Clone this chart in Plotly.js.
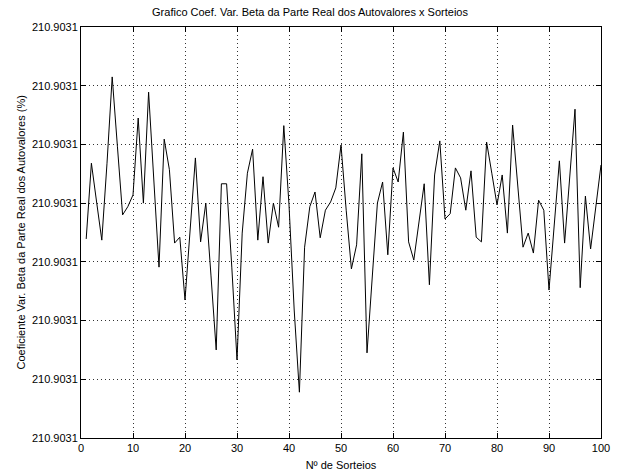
<!DOCTYPE html>
<html>
<head>
<meta charset="utf-8">
<script src="https://cdn.plot.ly/plotly-3.0.1.min.js"></script>
<style>
html,body{margin:0;padding:0;background:#fff;}
#chart{width:620px;height:475px;}
</style>
</head>
<body>
<div id="chart"></div>
<script>
// Sorteio index (x)
const sorteios = Array.from({length: 100}, (_, i) => i + 1);
// Values, expressed in units of one y-grid step (0 = bottom axis, 7 = top axis)
const coefVar = [
  3.39, 4.68, 4.02, 3.37, 4.68, 6.15, 4.97, 3.80, 3.94, 4.14,
  5.45, 4.00, 5.89, 4.40, 2.91, 5.09, 4.57, 3.32, 3.42, 2.35,
  3.54, 4.77, 3.34, 4.00, 2.76, 1.50, 4.33, 4.33, 2.91, 1.33,
  3.49, 4.51, 4.92, 3.37, 4.45, 3.32, 4.00, 3.59, 5.32, 3.97,
  2.18, 0.78, 3.25, 3.94, 4.19, 3.41, 3.88, 4.02, 4.26, 4.99,
  3.88, 2.88, 3.29, 4.84, 1.45, 2.69, 4.00, 4.36, 3.12, 4.60,
  4.36, 5.21, 3.34, 3.03, 3.66, 4.33, 2.61, 4.48, 5.06, 3.73,
  3.82, 4.60, 4.43, 3.88, 4.55, 3.42, 3.34, 5.04, 4.51, 3.97,
  4.48, 3.49, 5.33, 4.28, 3.25, 3.49, 3.15, 4.05, 3.88, 2.52,
  3.59, 4.72, 3.32, 4.45, 5.60, 2.56, 4.12, 3.22, 3.94, 4.65
];
const yTickVals = [0, 1, 2, 3, 4, 5, 6, 7];
const yTickText = ["210.9031", "210.9031", "210.9031", "210.9031", "210.9031", "210.9031", "210.9031", "210.9031"];
const xTickVals = [0, 10, 20, 30, 40, 50, 60, 70, 80, 90, 100];
const yTitle = 'Coeficiente Var. Beta da Parte Real dos Autovalores\u00a0(%)';

const fontFam = "Liberation Sans, Arial, Helvetica, sans-serif";

const trace = {
  x: sorteios,
  y: coefVar,
  type: 'scatter',
  mode: 'lines',
  line: {color: '#000000', width: 1},
  hoverinfo: 'skip'
};

const axisCommon = {
  showline: true,
  linecolor: '#000000',
  linewidth: 1,
  mirror: 'ticks',
  ticks: 'inside',
  ticklen: 5,
  tickcolor: '#000000',
  showgrid: true,
  gridcolor: '#333333',
  gridwidth: 1,
  griddash: '1px,3px',
  zeroline: false,
  tickfont: {family: fontFam, size: 11, color: '#000000'}
};

const layout = {
  width: 620,
  height: 475,
  paper_bgcolor: '#ffffff',
  plot_bgcolor: '#ffffff',
  margin: {l: 81, r: 19, t: 27, b: 37},
  showlegend: false,
  title: {
    text: 'Grafico Coef. Var. Beta da Parte Real dos Autovalores x Sorteios',
    font: {family: fontFam, size: 11, color: '#000000'},
    x: 0.5, xanchor: 'center',
    y: 1 - 12 / 475, yanchor: 'middle', yref: 'container'
  },
  xaxis: Object.assign({}, axisCommon, {
    range: [0, 100],
    tickvals: xTickVals,
    ticktext: xTickVals.map(String),
    title: {text: 'Nº de Sorteios', font: {family: fontFam, size: 11, color: '#000000'}, standoff: 8},
    automargin: false
  }),
  yaxis: Object.assign({}, axisCommon, {
    range: [0, 7],
    tickvals: yTickVals,
    ticktext: yTickText,
    automargin: false
  }),
  annotations: [{
    text: yTitle,
    font: {family: fontFam, size: 11, color: '#000000'},
    textangle: -90,
    xref: 'paper', yref: 'paper',
    x: (20 - 81) / 520, y: 0.5,
    xanchor: 'center', yanchor: 'middle',
    showarrow: false
  }]
};

Plotly.newPlot('chart', [trace], layout, {staticPlot: true, displayModeBar: false});
</script>
</body>
</html>
